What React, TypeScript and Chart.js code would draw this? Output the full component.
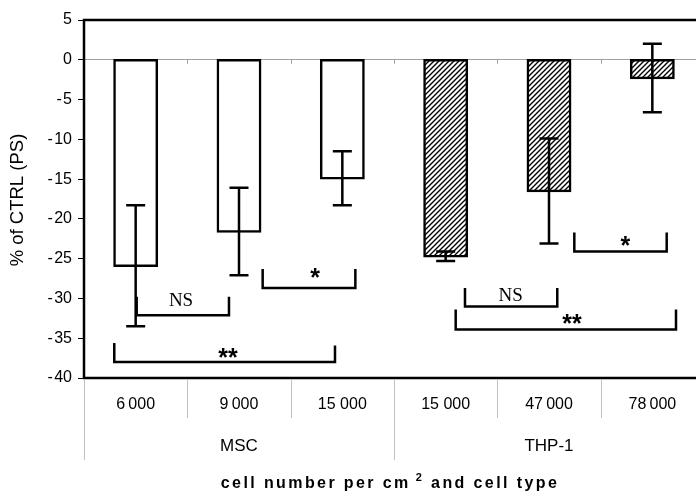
import React, { useEffect, useRef } from 'react';
import { Chart, registerables } from 'chart.js';
Chart.register(...registerables);

// ---- data ----
const categories = ['6\u2009000', '9\u2009000', '15 000', '15 000', '47\u2009000', '78\u2009000'];
const groups = ['MSC', 'THP-1'];
const groupSizes = [3, 3];
const means = [-25.9, -21.6, -14.9, -24.7, -16.5, -2.3];
const errors = [7.6, 5.5, 3.4, 0.6, 6.6, 4.3];
const hatched = [false, false, false, true, true, true];
const yMin = -40;
const yMax = 5;
const yStep = 5;
const yTitle = '% of CTRL (PS)';
const xTitleA = 'cell number per cm';
const xTitleSup = '2';
const xTitleB = ' and cell type';

// significance brackets (x in category units, y in % units)
const bracketFrom = [0.01, 1.229, -0.207, 3.187, 3.097, 4.245];
const bracketTo = [0.903, 2.126, 1.929, 4.08, 5.229, 5.139];
const bracketLeftTop = [-29.8, -26.3, -35.6, -28.7, -31.4, -21.7];
const bracketRightTop = [-29.8, -26.3, -35.9, -28.7, -31.4, -21.7];
const bracketBase = [-32.1, -28.7, -38.0, -31.0, -33.9, -24.1];
const bracketLabels = ['NS', '*', '**', 'NS', '**', '*'];
const bracketLabelX = [0.439, 1.736, 0.894, 3.629, 4.223, 4.738];
const bracketLabelY = [-30.07, -26.8, -36.85, -29.56, -32.58, -22.74];

const SANS = '"Liberation Sans", Arial, sans-serif';
const SERIF = '"Liberation Serif", "Times New Roman", serif';

function makeHatch(): CanvasPattern | string {
  const s = 5;
  const p = document.createElement('canvas');
  p.width = s;
  p.height = s;
  const c = p.getContext('2d');
  if (!c) return '#fff';
  c.fillStyle = '#fff';
  c.fillRect(0, 0, s, s);
  c.strokeStyle = '#000';
  c.lineWidth = 1.4;
  c.beginPath();
  c.moveTo(-1, s + 1);
  c.lineTo(s + 1, -1);
  c.moveTo(-s / 2 - 1, s / 2 + 1);
  c.lineTo(s / 2 + 1, -s / 2 - 1);
  c.moveTo(s / 2 - 1, s * 1.5 + 1);
  c.lineTo(s * 1.5 + 1, s / 2 - 1);
  c.stroke();
  const pat = c.createPattern(p, 'repeat');
  return pat || '#fff';
}

const decorPlugin = {
  id: 'decor',
  afterDatasetsDraw(chart: any) {
    const ctx = chart.ctx;
    const xs = chart.scales.x;
    const ys = chart.scales.y;
    ctx.save();
    // error bars
    ctx.strokeStyle = '#000';
    ctx.lineWidth = 2.5;
    const cap = 9.5;
    means.forEach((m, i) => {
      const x = xs.getPixelForValue(i);
      const yt = ys.getPixelForValue(m + errors[i]);
      const yb = ys.getPixelForValue(m - errors[i]);
      ctx.beginPath();
      ctx.moveTo(x, yt);
      ctx.lineTo(x, yb);
      ctx.moveTo(x - cap, yt);
      ctx.lineTo(x + cap, yt);
      ctx.moveTo(x - cap, yb);
      ctx.lineTo(x + cap, yb);
      ctx.stroke();
    });
    // brackets
    ctx.lineWidth = 2.5;
    bracketLabels.forEach((lab, i) => {
      const x1 = xs.getPixelForValue(bracketFrom[i]);
      const x2 = xs.getPixelForValue(bracketTo[i]);
      const yl = ys.getPixelForValue(bracketLeftTop[i]);
      const yr = ys.getPixelForValue(bracketRightTop[i]);
      const yb = ys.getPixelForValue(bracketBase[i]);
      ctx.beginPath();
      ctx.moveTo(x1, yl);
      ctx.lineTo(x1, yb);
      ctx.lineTo(x2, yb);
      ctx.lineTo(x2, yr);
      ctx.stroke();
      const lx = xs.getPixelForValue(bracketLabelX[i]);
      const ly = ys.getPixelForValue(bracketLabelY[i]);
      ctx.font = lab === 'NS' ? `19px ${SERIF}` : `bold 25px ${SANS}`;
      ctx.fillStyle = '#000';
      ctx.textAlign = 'center';
      ctx.textBaseline = 'alphabetic';
      const m = ctx.measureText(lab);
      const asc = m.actualBoundingBoxAscent;
      const desc = m.actualBoundingBoxDescent;
      ctx.fillText(lab, lx, ly + (asc - desc) / 2);
    });
    ctx.restore();
  },
  afterDraw(chart: any) {
    const ctx = chart.ctx;
    const xs = chart.scales.x;
    const ys = chart.scales.y;
    const area = chart.chartArea;
    const W = chart.width;
    ctx.save();
    // frame
    ctx.strokeStyle = '#000';
    ctx.lineWidth = 2.5;
    ctx.beginPath();
    ctx.moveTo(W + 5, area.top);
    ctx.lineTo(area.left, area.top);
    ctx.lineTo(area.left, area.bottom);
    ctx.lineTo(W + 5, area.bottom);
    ctx.stroke();
    // small tick marks on the zero line at category boundaries
    const y0 = ys.getPixelForValue(0);
    ctx.strokeStyle = '#a0a0a0';
    ctx.lineWidth = 1;
    for (let i = 1; i < categories.length; i++) {
      const x = Math.round(xs.getPixelForValue(i - 0.5)) + 0.5;
      ctx.beginPath();
      ctx.moveTo(x, y0);
      ctx.lineTo(x, y0 + 4);
      ctx.stroke();
    }
    // category separators below axis
    ctx.strokeStyle = '#c0c0c0';
    const groupStarts = new Set<number>();
    let acc = 0;
    groupSizes.forEach((g) => {
      groupStarts.add(acc);
      acc += g;
    });
    groupStarts.add(acc);
    for (let i = 0; i <= categories.length; i++) {
      const x = Math.round(xs.getPixelForValue(i - 0.5)) + 0.5;
      const long = groupStarts.has(i);
      ctx.beginPath();
      ctx.moveTo(x, area.bottom + 1);
      ctx.lineTo(x, area.bottom + (long ? 82 : 40));
      ctx.stroke();
    }
    // category labels
    ctx.fillStyle = '#000';
    ctx.textAlign = 'center';
    ctx.textBaseline = 'middle';
    ctx.font = `16px ${SANS}`;
    categories.forEach((c, i) => {
      ctx.fillText(c, xs.getPixelForValue(i), area.bottom + 27);
    });
    // group labels
    ctx.font = `17px ${SANS}`;
    acc = 0;
    groups.forEach((g, gi) => {
      const center = acc + (groupSizes[gi] - 1) / 2;
      ctx.fillText(g, xs.getPixelForValue(center), area.bottom + 68);
      acc += groupSizes[gi];
    });
    // y title
    ctx.save();
    ctx.translate(17.5, (area.top + area.bottom) / 2 + 1);
    ctx.rotate(-Math.PI / 2);
    ctx.font = `18.5px ${SANS}`;
    ctx.fillText(yTitle, 0, 0);
    ctx.restore();
    // x title
    const bigFont = `bold 16px ${SANS}`;
    const supFont = `bold 11px ${SANS}`;
    (ctx as any).letterSpacing = '2.4px';
    ctx.textAlign = 'left';
    ctx.textBaseline = 'alphabetic';
    ctx.font = bigFont;
    const wA = ctx.measureText(xTitleA).width;
    const wB = ctx.measureText(xTitleB).width;
    ctx.font = supFont;
    const wS = ctx.measureText(xTitleSup).width;
    const total = wA + 5 + wS + wB;
    const cx = 390;
    let sx = cx - total / 2;
    const base = 488;
    ctx.font = bigFont;
    ctx.fillText(xTitleA, sx, base);
    sx += wA + 5;
    ctx.font = supFont;
    ctx.fillText(xTitleSup, sx, base - 7);
    sx += wS;
    ctx.font = bigFont;
    ctx.fillText(xTitleB, sx, base);
    ctx.restore();
  },
};

export default function App() {
  const ref = useRef<HTMLCanvasElement | null>(null);
  useEffect(() => {
    if (!ref.current) return;
    const hatch = makeHatch();
    const chart = new Chart(ref.current, {
      type: 'bar',
      data: {
        labels: categories,
        datasets: [
          {
            data: means,
            backgroundColor: hatched.map((h) => (h ? hatch : '#ffffff')) as any,
            borderColor: '#000',
            borderWidth: 2.5,
            borderSkipped: false,
            inflateAmount: 1.25,
            barPercentage: 0.41,
            categoryPercentage: 1,
          } as any,
        ],
      },
      options: {
        animation: false,
        responsive: false,
        devicePixelRatio: 1,
        layout: { padding: { top: 20, right: 8, left: 0, bottom: 0 } },
        plugins: { legend: { display: false }, tooltip: { enabled: false } },
        scales: {
          x: {
            type: 'category',
            offset: true,
            grid: { display: false },
            border: { display: false },
            ticks: { display: false },
            afterFit: (s: any) => {
              s.height = 115;
            },
          },
          y: {
            min: yMin,
            max: yMax,
            ticks: {
              stepSize: yStep,
              color: '#000',
              padding: 6,
              font: { family: SANS, size: 16 },
              callback: (v: any) => (Number(v) < 0 ? '-\u200A' + String(-Number(v)) : String(v)),
            },
            grid: {
              color: (c: any) => (c.tick && c.tick.value === 0 ? '#a0a0a0' : 'rgba(0,0,0,0)'),
              tickColor: '#000',
              tickLength: 6,
              lineWidth: 1,
            },
            border: { display: false },
            afterFit: (s: any) => {
              s.width = 84;
            },
          },
        },
      },
      plugins: [decorPlugin],
    });
    return () => chart.destroy();
  }, []);
  return (
    <div style={{ position: 'absolute', left: 0, top: 0, width: 696, height: 493, overflow: 'hidden', background: '#fff' }}>
      <canvas ref={ref} width={712} height={493} style={{ display: 'block' }} />
    </div>
  );
}
